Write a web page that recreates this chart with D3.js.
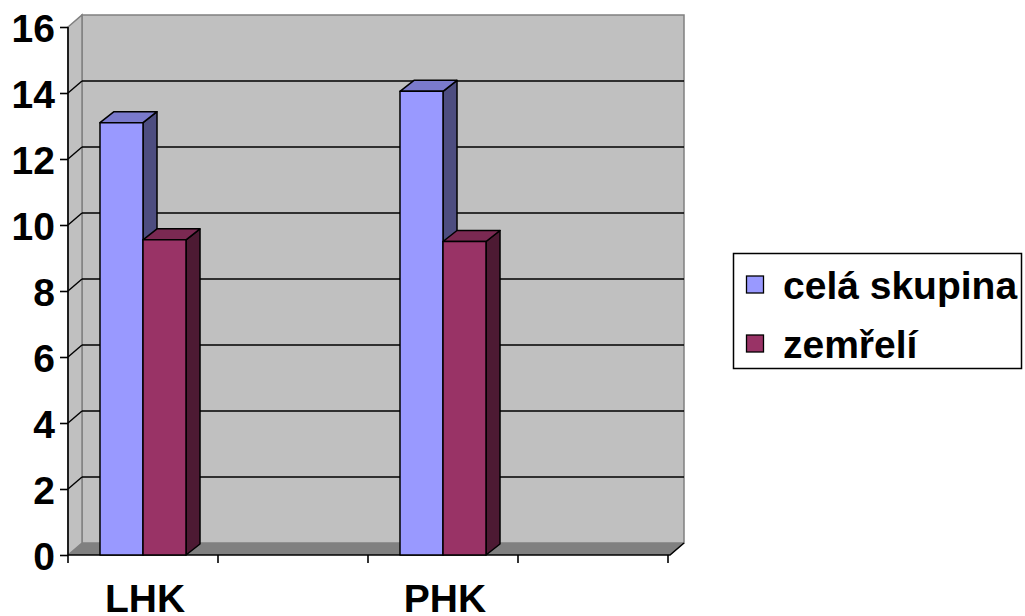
<!DOCTYPE html>
<html>
<head>
<meta charset="utf-8">
<script src="https://cdn.jsdelivr.net/npm/d3@7"></script>
<style>
  html, body { margin: 0; padding: 0; background: #ffffff; }
  svg { display: block; }
  text { font-family: "Liberation Sans", Arial, sans-serif; font-weight: bold; fill: #000; }
</style>
</head>
<body>
<svg id="chart" width="1025" height="616"></svg>
<script>
// Category slots along the x axis (two slots are left empty)
const categories = ["LHK", "", "PHK", ""];
// Series values per slot (null = no bar)
const celaSkupina = [13.1, null, 14.05, null];
const zemreli = [9.55, null, 9.5, null];
const seriesNames = ["celá skupina", "zemřelí"];
// Y axis ticks
const yTicks = [0, 2, 4, 6, 8, 10, 12, 14, 16];

const seriesColors = [
  { front: "#9999FF", top: "#7A7ACC", side: "#4D4D80" },
  { front: "#993366", top: "#7A2952", side: "#4D1A33" }
];

const FONT = "39px";
const svg = d3.select("#chart");

// Front plane of the plot and the depth offset of the walls
const plot = { left: 68, right: 668, top: 27, bottom: 555 };
const wallDX = 14, wallDY = 12;
const barDX = 14, barDY = 11;

const y = d3.scaleLinear().domain([0, 16]).range([plot.bottom, plot.top]);
const x = d3.scaleBand().domain(d3.range(categories.length)).range([plot.left, plot.right]);
const xs = d3.scaleBand().domain(d3.range(seriesNames.length))
  .range([0, x.bandwidth()]).paddingOuter(0.744).paddingInner(0);

const poly = pts => "M" + pts.map(p => p.join(",")).join("L") + "Z";

// Back wall
svg.append("rect")
  .attr("x", plot.left + wallDX).attr("y", plot.top - wallDY)
  .attr("width", plot.right + 2 - plot.left).attr("height", plot.bottom - plot.top)
  .attr("fill", "#C0C0C0").attr("stroke", "#808080").attr("stroke-width", 1.5);

// Left side wall
svg.append("path")
  .attr("d", poly([[plot.left, plot.top], [plot.left + wallDX, plot.top - wallDY],
                   [plot.left + wallDX, plot.bottom - wallDY], [plot.left, plot.bottom]]))
  .attr("fill", "#C0C0C0").attr("stroke", "#808080").attr("stroke-width", 1.5);

// Floor
svg.append("path")
  .attr("d", poly([[plot.left, plot.bottom], [plot.right + 2, plot.bottom],
                   [plot.right + 2 + wallDX, plot.bottom - wallDY], [plot.left + wallDX, plot.bottom - wallDY]]))
  .attr("fill", "#808080").attr("stroke", "none");

// Gridlines on the back and side walls
const grid = svg.append("g").attr("stroke", "#000").attr("stroke-width", 1.4).attr("fill", "none");
yTicks.filter(t => t > 0 && t < 16).forEach(t => {
  const yy = y(t);
  grid.append("line")
    .attr("x1", plot.left + wallDX).attr("x2", plot.right + 2 + wallDX)
    .attr("y1", yy - wallDY).attr("y2", yy - wallDY);
  grid.append("line")
    .attr("x1", plot.left).attr("x2", plot.left + wallDX)
    .attr("y1", yy).attr("y2", yy - wallDY);
});

// Floor front and right edges
svg.append("path")
  .attr("d", `M${plot.left},${plot.bottom}L${plot.right + 2},${plot.bottom}L${plot.right + 2 + wallDX},${plot.bottom - wallDY}`)
  .attr("fill", "none").attr("stroke", "#000").attr("stroke-width", 1.6);

// Bars
const barsG = svg.append("g");
categories.forEach((cat, i) => {
  [celaSkupina, zemreli].forEach((vals, s) => {
    const v = vals[i];
    if (v == null) return;
    const x0 = x(i) + xs(s);
    const x1 = x0 + xs.bandwidth();
    const yt = y(v), yb = y(0);
    const c = seriesColors[s];
    const g = barsG.append("g").attr("stroke", "#000").attr("stroke-width", 1.5).attr("stroke-linejoin", "round");
    g.append("path").attr("fill", c.side)
      .attr("d", poly([[x1, yt], [x1 + barDX, yt - barDY], [x1 + barDX, yb - barDY], [x1, yb]]));
    g.append("path").attr("fill", c.top)
      .attr("d", poly([[x0, yt], [x1, yt], [x1 + barDX, yt - barDY], [x0 + barDX, yt - barDY]]));
    g.append("rect").attr("fill", c.front)
      .attr("x", x0).attr("y", yt).attr("width", x1 - x0).attr("height", yb - yt);
  });
});

// Y axis
const yAxis = d3.axisLeft(y).tickValues(yTicks).tickSize(8).tickPadding(5).tickFormat(d3.format("d"));
const yg = svg.append("g").attr("transform", `translate(${plot.left},0)`).call(yAxis);
yg.select(".domain").attr("stroke", "#000").attr("stroke-width", 1.6).attr("d", `M0,${plot.top}V${plot.bottom}`);
yg.selectAll(".tick line").attr("stroke", "#000").attr("stroke-width", 1.6);
yg.selectAll(".tick text").style("font-size", FONT).style("font-family", "'Liberation Sans', Arial, sans-serif")
  .style("font-weight", "bold").attr("fill", "#000").attr("dy", "0.36em");

// X axis
const xEdges = d3.range(categories.length + 1).map(k => plot.left + k * x.step());
const xg = svg.append("g");
xg.selectAll("line").data(xEdges).join("line")
  .attr("x1", d => d).attr("x2", d => d)
  .attr("y1", plot.bottom).attr("y2", plot.bottom + 8)
  .attr("stroke", "#000").attr("stroke-width", 1.6);
xg.selectAll("text").data(categories).join("text")
  .attr("x", (d, i) => x(i) + x.bandwidth() / 2 + 2)
  .attr("y", 612)
  .attr("text-anchor", "middle")
  .style("font-size", FONT)
  .text(d => d);

// Legend
const legend = svg.append("g");
legend.append("rect")
  .attr("x", 733.5).attr("y", 253.5).attr("width", 288).attr("height", 115)
  .attr("fill", "#fff").attr("stroke", "#000").attr("stroke-width", 1.5);
seriesNames.forEach((name, s) => {
  const cy = 285 + s * 59;
  legend.append("rect")
    .attr("x", 746.5).attr("y", cy - 9).attr("width", 17).attr("height", 17)
    .attr("fill", seriesColors[s].front).attr("stroke", "#000").attr("stroke-width", 1.3);
  legend.append("text")
    .attr("x", 783).attr("y", cy + 14)
    .style("font-size", FONT)
    .text(name);
});
</script>
</body>
</html>
